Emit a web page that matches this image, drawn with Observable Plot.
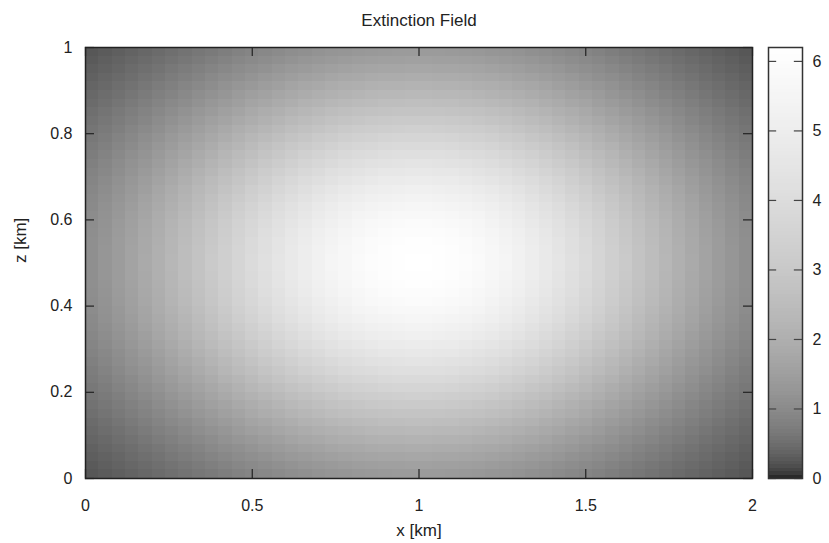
<!DOCTYPE html>
<html>
<head>
<meta charset="utf-8">
<script src="https://cdn.jsdelivr.net/npm/d3@7"></script>
<script src="https://cdn.jsdelivr.net/npm/@observablehq/plot@0.6"></script>
<style>
  html, body { margin: 0; padding: 0; background: #fff; }
  #wrap { position: relative; width: 829px; height: 543px; }
  #wrap svg { position: absolute; top: 0; }
</style>
</head>
<body>
<div id="wrap"></div>
<script>
// ---- data ----
const title = "Extinction Field";
const xLabel = "x [km]";
const zLabel = "z [km]";
const xDomain = [0, 2];
const zDomain = [0, 1];
const xTicks = [0, 0.5, 1, 1.5, 2];
const zTicks = [0, 0.2, 0.4, 0.6, 0.8, 1];
const cbTicks = [0, 1, 2, 3, 4, 5, 6];
const cbMax = 6.2;
const peakValue = 6.2;
// relative extinction along x (50 cells, 0 -> 2 km)
const xProfile = [0.178,0.203,0.231,0.261,0.294,0.330,0.368,0.408,0.450,0.494,
  0.539,0.585,0.631,0.677,0.722,0.766,0.808,0.847,0.883,0.915,
  0.942,0.964,0.982,0.993,0.999,0.999,0.993,0.982,0.964,0.942,
  0.915,0.883,0.847,0.808,0.766,0.722,0.677,0.631,0.585,0.539,
  0.494,0.450,0.408,0.368,0.330,0.294,0.261,0.231,0.203,0.178];
// relative extinction along z (50 cells, 0 -> 1 km)
const zProfile = [0.224,0.251,0.280,0.311,0.345,0.381,0.418,0.458,0.498,0.540,
  0.583,0.626,0.669,0.712,0.753,0.793,0.830,0.865,0.897,0.925,
  0.949,0.969,0.984,0.994,0.999,0.999,0.994,0.984,0.969,0.949,
  0.925,0.897,0.865,0.830,0.793,0.753,0.712,0.669,0.626,0.583,
  0.540,0.498,0.458,0.418,0.381,0.345,0.311,0.280,0.251,0.224];

// ---- build table ----
const dx = (xDomain[1] - xDomain[0]) / xProfile.length;
const dz = (zDomain[1] - zDomain[0]) / zProfile.length;
const cells = [];
xProfile.forEach((fx, i) => {
  zProfile.forEach((fz, j) => {
    cells.push({x1: xDomain[0] + i * dx, x2: xDomain[0] + (i + 1) * dx,
                z1: zDomain[0] + j * dz, z2: zDomain[0] + (j + 1) * dz,
                v: peakValue * fx * fz});
  });
});
const ramp = d3.range(0, 124).map(k => ({y1: k * cbMax / 124, y2: (k + 1) * cbMax / 124, v: (k + 0.5) * cbMax / 124}));

const colorOpts = {type: "pow", exponent: 1 / 3, domain: [0, cbMax], range: ["#000000", "#ffffff"], interpolate: "rgb"};
const font = "'Liberation Sans', Arial, Helvetica, sans-serif";
const fmt = d => String(d);

const W = 829, H = 543;
const mL = 85, mR = 77, mT = 47, mB = 65;
const tickLenX = 9 / (H - mT - mB);   // in z units
const tickLenY = 9 / (W - mL - mR) * 2; // in x units

const main = Plot.plot({
  width: W, height: H,
  marginLeft: mL, marginRight: mR, marginTop: mT, marginBottom: mB,
  style: {fontFamily: font, fontSize: "16px", background: "transparent", color: "#222"},
  x: {domain: xDomain, ticks: xTicks, tickFormat: fmt},
  y: {domain: zDomain, ticks: zTicks, tickFormat: fmt},
  color: colorOpts,
  marks: [
    Plot.rect(cells, {x1: "x1", x2: "x2", y1: "z1", y2: "z2", fill: "v", inset: 0, shapeRendering: "crispEdges"}),
    Plot.ruleX(xTicks, {x: d => d, y1: zDomain[0], y2: zDomain[0] + tickLenX, stroke: "#222", strokeWidth: 1.2}),
    Plot.ruleX(xTicks, {x: d => d, y1: zDomain[1], y2: zDomain[1] - tickLenX, stroke: "#222", strokeWidth: 1.2}),
    Plot.ruleY(zTicks, {y: d => d, x1: xDomain[0], x2: xDomain[0] + tickLenY, stroke: "#222", strokeWidth: 1.2}),
    Plot.ruleY(zTicks, {y: d => d, x1: xDomain[1], x2: xDomain[1] - tickLenY, stroke: "#222", strokeWidth: 1.2}),
    Plot.frame({stroke: "#222", strokeWidth: 1.5}),
    Plot.axisX({ticks: xTicks, tickSize: 0, tickPadding: 21, label: null, fontSize: 16, tickFormat: fmt}),
    Plot.axisY({ticks: zTicks, tickSize: 0, tickPadding: 13, label: null, fontSize: 16, tickFormat: fmt}),
    Plot.text([title], {frameAnchor: "top", dy: -27, lineAnchor: "middle", fontSize: 17, fill: "#222"}),
    Plot.text([xLabel], {frameAnchor: "bottom", dy: 52, lineAnchor: "middle", fontSize: 17, fill: "#222"}),
    Plot.text([zLabel], {frameAnchor: "left", dx: -65, lineAnchor: "middle", rotate: -90, fontSize: 17, fill: "#222"})
  ]
});
main.style.left = "0px";

const cbW = 89;
const cb = Plot.plot({
  width: cbW, height: H,
  marginLeft: 28, marginRight: 27, marginTop: mT, marginBottom: mB,
  style: {fontFamily: font, fontSize: "16px", background: "transparent", color: "#222", overflow: "visible"},
  x: {domain: [0, 1], axis: null},
  y: {domain: [0, cbMax], ticks: cbTicks, tickFormat: fmt},
  color: colorOpts,
  marks: [
    Plot.rect(ramp, {x1: 0, x2: 1, y1: "y1", y2: "y2", fill: "v", shapeRendering: "crispEdges"}),
    Plot.ruleY(cbTicks, {y: d => d, x1: 0, x2: 0.24, stroke: "#444", strokeWidth: 1.2}),
    Plot.ruleY(cbTicks, {y: d => d, x1: 0.76, x2: 1, stroke: "#444", strokeWidth: 1.2}),
    Plot.frame({stroke: "#333", strokeWidth: 1.5}),
    Plot.axisY({anchor: "right", ticks: cbTicks, tickSize: 0, tickPadding: 10, label: null, fontSize: 16, textAnchor: "start", tickFormat: fmt})
  ]
});
cb.style.left = (W - cbW) + "px";

const wrap = document.getElementById("wrap");
wrap.appendChild(main);
wrap.appendChild(cb);
</script>
</body>
</html>
